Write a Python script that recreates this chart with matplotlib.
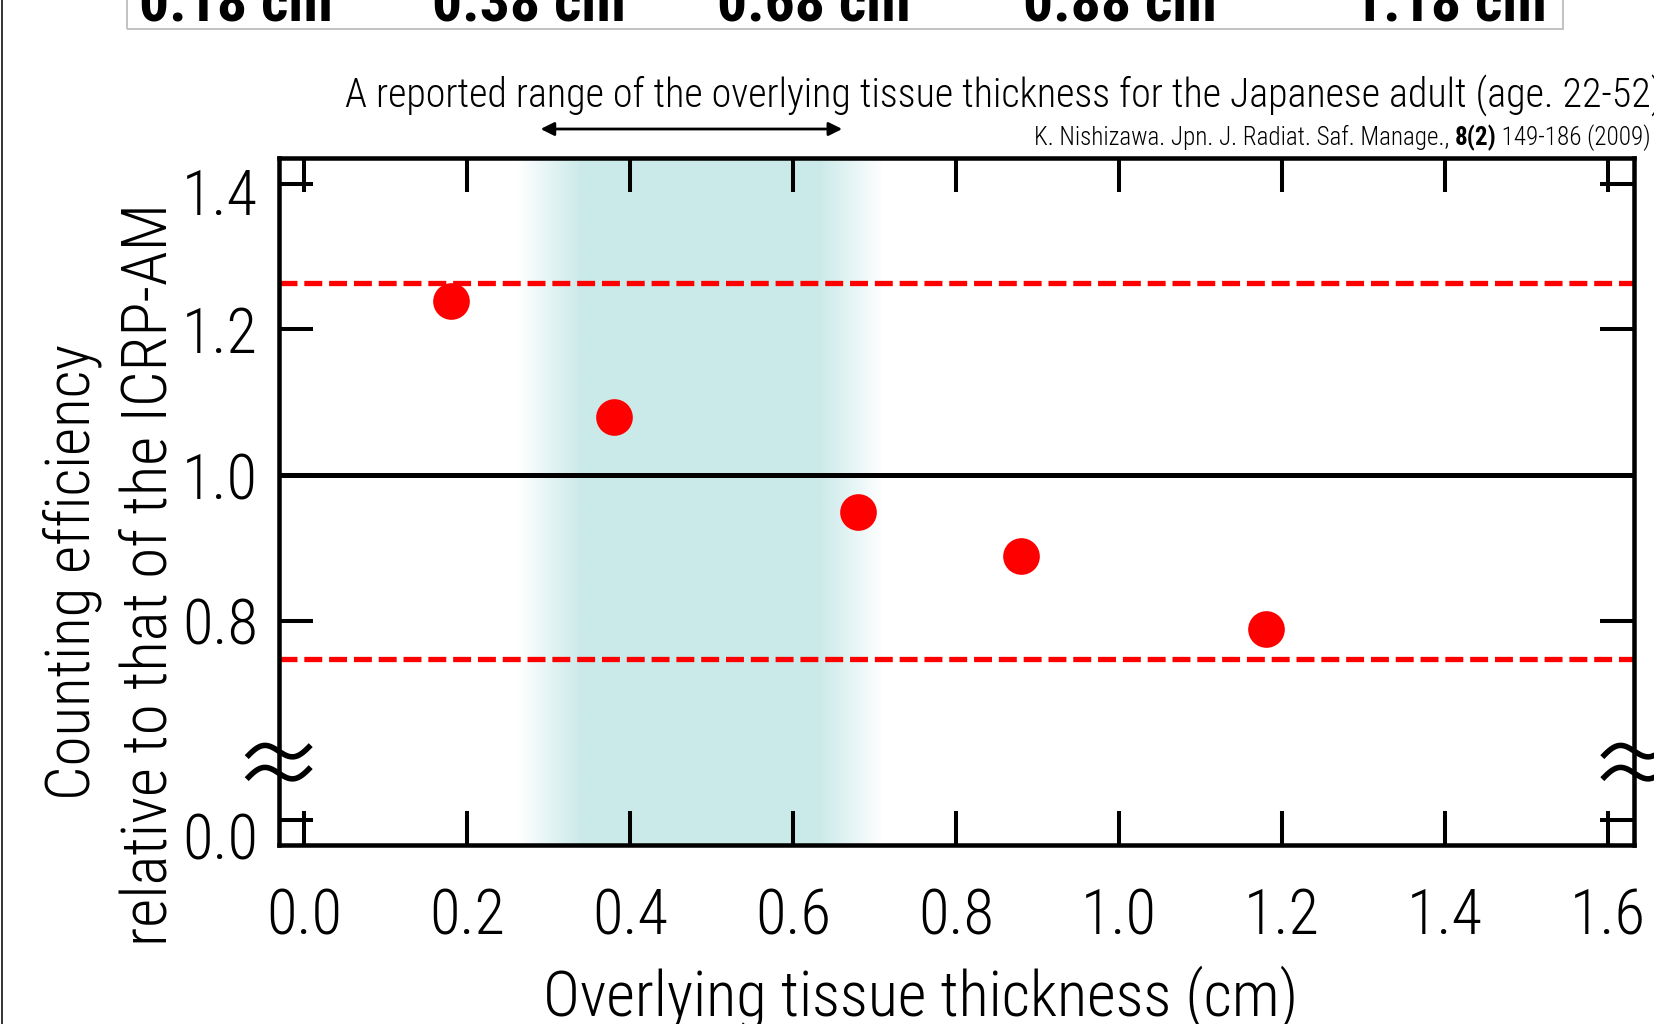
import numpy as np
import matplotlib
matplotlib.use("Agg")
import matplotlib.pyplot as plt
from matplotlib import font_manager
from matplotlib.transforms import ScaledTranslation
from matplotlib.lines import Line2D
from matplotlib.patches import Rectangle

# ---------------- data ----------------
thickness = [0.18, 0.38, 0.68, 0.88, 1.18]            # cm
rel_efficiency = [1.239, 1.080, 0.950, 0.889, 0.789]  # relative to ICRP-AM
phantom_labels = ["0.18 cm", "0.38 cm", "0.68 cm", "0.88 cm", "1.18 cm"]
upper_limit = 1.264
lower_limit = 0.748
reference_level = 1.0
japanese_range = (0.30, 0.67)     # shaded range of overlying tissue thickness
arrow_span = (0.29, 0.66)
x_ticks = [0.0, 0.2, 0.4, 0.6, 0.8, 1.0, 1.2, 1.4, 1.6]
x_ticklabels = ["0.0", "0.2", "0.4", "0.6", "0.8", "1.0", "1.2", "1.4", "1.6"]
y_ticks = [0.0, 0.8, 1.0, 1.2, 1.4]
y_ticklabels = ["0.0", "0.8", "1.0", "1.2", "1.4"]

# ---------------- fonts ----------------
available = {f.name for f in font_manager.fontManager.ttflist}
NARROW = next((n for n in ["Liberation Sans Narrow", "Roboto Condensed",
                           "Open Sans Condensed", "DejaVu Sans"] if n in available),
              "DejaVu Sans")
plt.rcParams["font.family"] = [NARROW, "DejaVu Sans"]
plt.rcParams["font.weight"] = "light"
if NARROW == "DejaVu Sans":
    plt.rcParams["font.stretch"] = "condensed"

W, H = 1654, 1024
fig = plt.figure(figsize=(W / 100, H / 100), dpi=100)

def fx(px):
    return px / W

def fy(px):
    return 1 - px / H

ax = fig.add_axes([fx(278.7), fy(845), fx(1634.3 - 278.7), (845 - 158) / H])

# ---------------- broken y scale ----------------
LOW_TOP = 0.07      # largest value kept below the break
OFFSET = 0.5274     # shift applied to the lower segment
BREAK_U = 0.6068    # scale position of the break
GAP_SLOPE = (BREAK_U - (LOW_TOP + OFFSET)) / (BREAK_U - LOW_TOP)

def forward(y):
    y = np.asarray(y, dtype=float)
    return np.where(y <= LOW_TOP, y + OFFSET,
                    np.where(y >= BREAK_U, y,
                             LOW_TOP + OFFSET + (y - LOW_TOP) * GAP_SLOPE))

def inverse(u):
    u = np.asarray(u, dtype=float)
    return np.where(u <= LOW_TOP + OFFSET, u - OFFSET,
                    np.where(u >= BREAK_U, u,
                             LOW_TOP + (u - (LOW_TOP + OFFSET)) / GAP_SLOPE))

ax.set_yscale("function", functions=(forward, inverse))
YMIN, YMAX = -0.0342, 1.435
XMIN, XMAX = -0.0314, 1.632

# ---------------- shaded thickness range ----------------
band_color = (0.796, 0.914, 0.914)
fade = 0.08
lo, hi = japanese_range
xs = np.linspace(lo - fade, hi + fade, 600)
alpha = np.clip(np.minimum((xs - (lo - fade / 2)) / fade,
                           ((hi + fade / 2) - xs) / fade), 0, 1)
img = np.zeros((1, xs.size, 4))
img[..., :3] = band_color
img[..., 3] = alpha
ax.imshow(img, extent=(xs[0], xs[-1], 0, 1), transform=ax.get_xaxis_transform(),
          aspect="auto", interpolation="bilinear", zorder=0)

# ---------------- reference lines and points ----------------
ax.axhline(reference_level, color="black", lw=3.6, zorder=3)
for lvl in (upper_limit, lower_limit):
    ax.axhline(lvl, color="#ff0000", lw=3.8, dashes=(3.4, 1.3), zorder=3)
ax.plot(thickness, rel_efficiency, "o", ms=26.4, color="#ff0000", mec="none",
        zorder=5, clip_on=False)

ax.set_xlim(XMIN, XMAX)
ax.set_ylim(YMIN, YMAX)

# ---------------- axes styling ----------------
for sp in ax.spines.values():
    sp.set_linewidth(3.25)
    sp.set_zorder(6)
ax.set_xticks(x_ticks)
ax.set_xticklabels(x_ticklabels)
ax.set_yticks(y_ticks)
ax.set_yticklabels(y_ticklabels)
ax.minorticks_off()
ax.tick_params(direction="in", length=24.5, width=2.9, top=True, right=True,
               labelsize=45, colors="black")
ax.tick_params(axis="y", pad=15)
ax.tick_params(axis="x", pad=30)

# small vertical nudges of individual y labels
nudge_px = {"1.4": -8, "0.0": -16}
for tick, lab in zip(ax.yaxis.get_major_ticks(), y_ticklabels):
    if lab in nudge_px:
        tick.label1.set_transform(tick.label1.get_transform() +
                                  ScaledTranslation(0, nudge_px[lab] / 100,
                                                    fig.dpi_scale_trans))

# ---------------- axis-break symbols ----------------
u_lo, u_hi = forward(YMIN), forward(YMAX)
break_frac = (BREAK_U - u_lo) / (u_hi - u_lo)
t = np.linspace(0, 1, 80)
wx = (-32 + 64 * t) / 100
wave = (8.5 * np.sin(2 * np.pi * t) + 12 * (t - 0.5)) / 100
for xa in (0.0, 1.0):
    tr = fig.dpi_scale_trans + ScaledTranslation(xa, break_frac, ax.transAxes)
    for dy in (0.11, -0.11):
        ax.add_line(Line2D(wx, wave + dy, transform=tr, color="black",
                           lw=4.0, clip_on=False, zorder=7,
                           solid_capstyle="butt"))

# ---------------- axis labels ----------------
fig.text(fx(90), fy(572), "Counting efficiency", rotation=90,
         rotation_mode="anchor", ha="center", va="baseline", fontsize=44)
fig.text(fx(167), fy(575), "relative to that of the ICRP-AM", rotation=90,
         rotation_mode="anchor", ha="center", va="baseline", fontsize=45.5)
fig.text(fx(921), fy(1015), "Overlying tissue thickness (cm)",
         ha="center", va="baseline", fontsize=45)

# ---------------- range annotation ----------------
fig.text(fx(345), fy(107),
         "A reported range of the overlying tissue thickness for the "
         "Japanese adult (age. 22-52)", ha="left", va="baseline", fontsize=28.8)
ax.annotate("", xy=(arrow_span[1], 1.0422), xytext=(arrow_span[0], 1.0422),
            xycoords=ax.get_xaxis_transform(), textcoords=ax.get_xaxis_transform(),
            arrowprops=dict(arrowstyle="<|-|>", lw=2, color="black",
                            mutation_scale=20, shrinkA=0, shrinkB=0),
            annotation_clip=False)

# citation, with the volume number in bold
renderer = fig.canvas.get_renderer()
pieces = [("K. Nishizawa. Jpn. J. Radiat. Saf. Manage., ", "light"),
          ("8(2)", "bold"),
          (" 149-186 (2009)", "light")]
x_right = fx(1651)
for txt, weight in reversed(pieces):
    tt = fig.text(x_right, fy(145), txt, ha="right", va="baseline",
                  fontsize=18.05, fontweight=weight)
    bb = tt.get_window_extent(renderer)
    x_right = bb.x0 / W

# ---------------- header strip with phantom labels ----------------
fig.add_artist(Rectangle((fx(127), fy(28.5)), fx(1563 - 127), 0.2,
                         transform=fig.transFigure, fill=False,
                         edgecolor="#bdbdbd", lw=1.3))
header_x_px = [236, 529, 814, 1120, 1450]
for xp, lab in zip(header_x_px, phantom_labels):
    fig.text(fx(xp), fy(22), lab, ha="center", va="baseline",
             fontsize=43, fontweight="bold")

# frame edge at the left
fig.add_artist(Line2D([fx(1.5), fx(1.5)], [0, 1], transform=fig.transFigure,
                      color="#333333", lw=1.4))

fig.savefig("out.png", dpi=100)
